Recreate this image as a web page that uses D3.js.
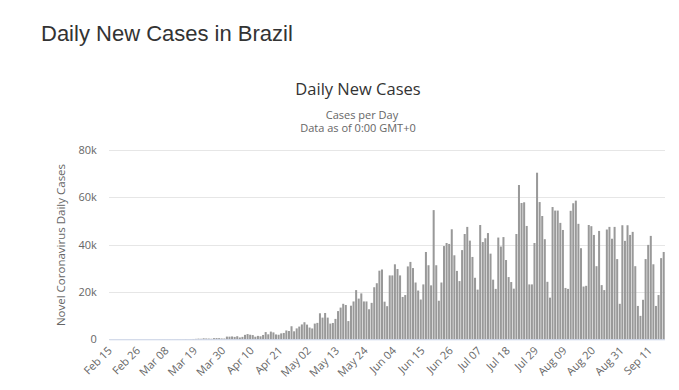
<!DOCTYPE html>
<html><head><meta charset="utf-8">
<script src="https://cdn.jsdelivr.net/npm/d3@7"></script>
<style>
html,body{margin:0;padding:0;background:#fff;}
svg{display:block;}
</style></head>
<body>
<svg id="c" width="679" height="390"></svg>
<script>
// ---- data ----
const startDate = "2020-02-15";
const tickEvery = 11;
const yTicks = [0, 20000, 40000, 60000, 80000];
const yTickLabels = ["0", "20k", "40k", "60k", "80k"];
const pageTitle = "Daily New Cases in Brazil";
const chartTitle = "Daily New Cases";
const subtitle1 = "Cases per Day";
const subtitle2 = "Data as of 0:00 GMT+0";
const yAxisTitle = "Novel Coronavirus Daily Cases";
const cases = [
  0,0,0,0,0,0,0,0,0,0,0,1,0,0,1,0,0,0,1,4,5,5,6,6,6,18,25,21,23,79,34,57,137,193,
  283,224,418,345,310,232,482,502,487,352,323,
  1138,1119,1208,1012,1304,770,1031,1873,2210,1930,1781,1089,1442,1261,1832,3058,2105,3257,2917,2055,1927,
  2498,2678,3735,3503,5514,3379,4613,5385,6276,7218,6209,
  4970,4588,6633,6935,11000,9162,11121,9167,6638,6895,8620,11923,
  13400,15000,14500,7700,14200,16000,20800,17200,19400,16000,
  16000,12700,15400,22000,23700,29000,29500,15900,14000,27000,27000,
  31700,29700,27000,17900,18700,30800,32700,30100,24000,20600,16800,
  23200,36900,31300,22800,54600,31300,16300,24000,39400,40700,40300,
  46500,35500,28900,24600,37700,44500,47500,41700,34800,26000,21000,
  48300,41100,42700,44900,36200,25200,21300,43000,39200,43200,33500,
  26300,24200,21400,44500,65200,57600,57900,47900,23200,23200,40700,
  70400,58000,52100,42300,24300,17600,55900,54400,54400,49200,46200,
  21700,21300,54300,57500,58600,48800,38500,22300,22600,48300,47800,
  44100,30900,45800,22900,20800,46400,47500,42500,47500,33900,15000,
  48200,41600,48200,44100,45400,30900,14100,9900,16700,33900,39900,
  43700,31700,14100,18700,34300,36900
];

// ---- chart ----
const parse = d3.timeParse("%Y-%m-%d");
const fmt = d3.timeFormat("%b %d");
const d0 = parse(startDate);
const dates = cases.map((_, i) => d3.timeDay.offset(d0, i));
const cats = dates.map(d => fmt(d));

const svg = d3.select("#c");
const pL = 109.3, pR = 665, pT = 150, pB = 339.3;

const x = d3.scaleBand().domain(cats).range([pL, pR]).paddingInner(0.22).paddingOuter(0.11);
const y = d3.scaleLinear().domain([0, 80000]).range([pB, pT]);

svg.append("text").attr("x", 41).attr("y", 41)
  .attr("font-family", "Liberation Sans, Arial, sans-serif").attr("font-size", 22)
  .attr("fill", "#333").text(pageTitle);

const cx = 358;
svg.append("text").attr("x", cx).attr("y", 95).attr("text-anchor", "middle")
  .attr("font-family", "Open Sans, sans-serif").attr("font-size", 16.5)
  .attr("fill", "#333").text(chartTitle);
svg.append("text").attr("x", cx + 4).attr("y", 118.5).attr("text-anchor", "middle")
  .attr("font-family", "Open Sans, sans-serif").attr("font-size", 11)
  .attr("fill", "#666").text(subtitle1);
svg.append("text").attr("x", cx).attr("y", 132).attr("text-anchor", "middle")
  .attr("font-family", "Open Sans, sans-serif").attr("font-size", 11)
  .attr("fill", "#666").text(subtitle2);

// gridlines + y labels
const yAxis = d3.axisLeft(y).tickValues(yTicks).tickSize(-(pR - pL)).tickFormat((d, i) => yTickLabels[i]);
const gy = svg.append("g").attr("transform", `translate(${pL},0)`).call(yAxis);
gy.select(".domain").remove();
gy.selectAll(".tick line").attr("stroke", "#e6e6e6").attr("stroke-width", 1).attr("shape-rendering", "crispEdges");
gy.selectAll(".tick text").attr("x", -12.5).attr("dy", "0.32em")
  .attr("font-family", "Open Sans, sans-serif").attr("font-size", 11).attr("fill", "#666");

svg.append("text").attr("transform", `translate(65,245) rotate(-90)`).attr("text-anchor", "middle")
  .attr("font-family", "Open Sans, sans-serif").attr("font-size", 11.5)
  .attr("fill", "#666").text(yAxisTitle);

// bars
svg.append("g").selectAll("rect").data(cases).join("rect")
  .attr("x", (d, i) => x(cats[i]))
  .attr("width", x.bandwidth())
  .attr("y", d => y(d))
  .attr("height", d => pB - y(d))
  .attr("fill", "#999");

// x axis
const tickCats = cats.filter((_, i) => i % tickEvery === 0);
const xAxis = d3.axisBottom(x).tickValues(tickCats).tickSize(0);
const gx = svg.append("g").attr("transform", `translate(0,${pB})`).call(xAxis);
gx.select(".domain").attr("stroke", "#ccd6eb").attr("d", `M${pL},0.5H${pR}`);
gx.selectAll(".tick text")
  .attr("font-family", "Open Sans, sans-serif").attr("font-size", 11).attr("fill", "#666")
  .attr("text-anchor", "end").attr("dy", null).attr("y", 0)
  .attr("transform", "translate(2,12) rotate(-45)");
</script>
</body></html>
